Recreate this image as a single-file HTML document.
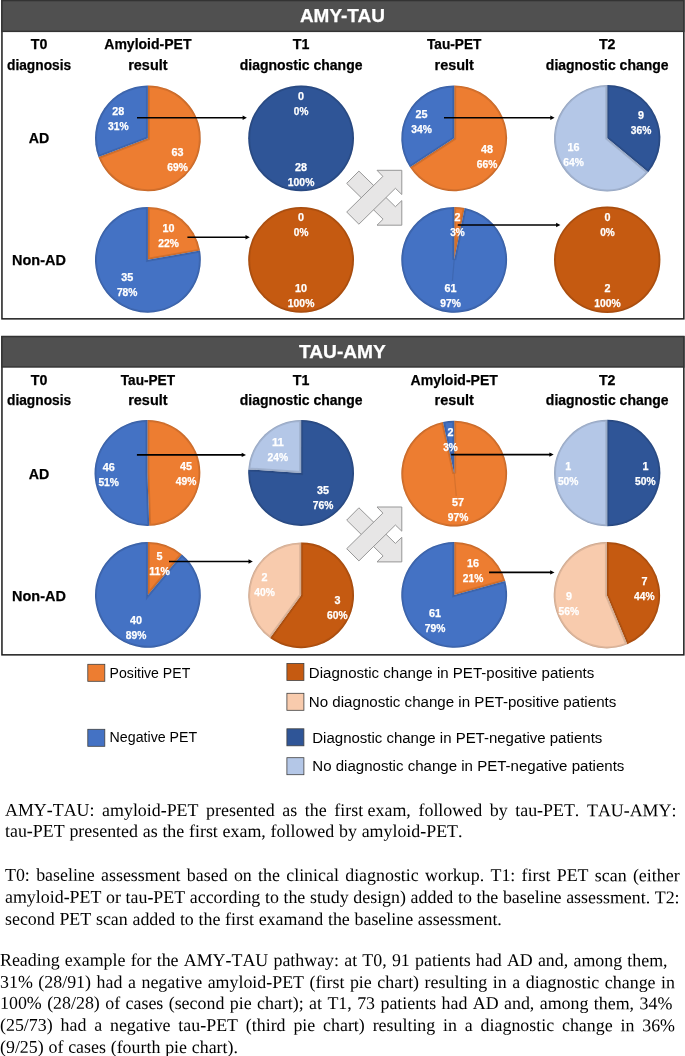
<!DOCTYPE html>
<html><head><meta charset="utf-8"><title>Figure</title>
<style>
html,body{margin:0;padding:0;background:#fff}
body{position:relative;width:685px;height:1056px;overflow:hidden}
svg{position:absolute;left:0;top:0}
svg text{font-family:"Liberation Sans",sans-serif}
.ln{position:absolute;font-family:"Liberation Serif",serif;font-size:17.9px;font-kerning:none;line-height:20px;height:20px;color:#000;white-space:nowrap;overflow:visible;transform:rotate(0.03deg);transform-origin:50% 16.1px}
.ln.j{white-space:nowrap;text-align:justify;text-align-last:justify}
.nb{display:inline-block;white-space:nowrap}
#w{position:absolute;left:0;top:0;width:685px;height:1056px;will-change:transform}
</style></head><body><div id="w">
<svg width="685" height="790" viewBox="0 0 685 790">
<defs><clipPath id="c1"><path d="M147.9 138.30L147.90 85.40A52.9 52.9 0 1 1 98.44 157.06Z"/></clipPath><clipPath id="c2"><path d="M147.9 138.30L98.44 157.06A52.9 52.9 0 0 1 147.90 85.40Z"/></clipPath><clipPath id="c3"><path d="M147.9 259.80L147.90 206.90A52.9 52.9 0 0 1 200.00 250.61Z"/></clipPath><clipPath id="c4"><path d="M147.9 259.80L200.00 250.61A52.9 52.9 0 1 1 147.90 206.90Z"/></clipPath><clipPath id="c7"><path d="M454.2 138.30L454.20 85.40A52.9 52.9 0 1 1 409.98 167.33Z"/></clipPath><clipPath id="c8"><path d="M454.2 138.30L409.98 167.33A52.9 52.9 0 0 1 454.20 85.40Z"/></clipPath><clipPath id="c9"><path d="M454.2 259.80L454.20 206.90A52.9 52.9 0 0 1 464.68 207.95Z"/></clipPath><clipPath id="c10"><path d="M454.2 259.80L464.68 207.95A52.9 52.9 0 1 1 454.20 206.90Z"/></clipPath><clipPath id="c11"><path d="M607.2 138.30L607.20 85.10A53.2 53.2 0 0 1 648.19 172.21Z"/></clipPath><clipPath id="c12"><path d="M607.2 138.30L648.19 172.21A53.2 53.2 0 1 1 607.20 85.10Z"/></clipPath><clipPath id="c14"><path d="M147.4 473.00L147.40 420.10A52.9 52.9 0 0 1 149.23 525.87Z"/></clipPath><clipPath id="c15"><path d="M147.4 473.00L149.23 525.87A52.9 52.9 0 1 1 147.40 420.10Z"/></clipPath><clipPath id="c16"><path d="M147.9 594.90L147.90 542.00A52.9 52.9 0 0 1 181.90 554.38Z"/></clipPath><clipPath id="c17"><path d="M147.9 594.90L181.90 554.38A52.9 52.9 0 1 1 147.90 542.00Z"/></clipPath><clipPath id="c18"><path d="M301.1 473.00L301.10 420.10A52.9 52.9 0 1 1 248.32 469.39Z"/></clipPath><clipPath id="c19"><path d="M301.1 473.00L248.32 469.39A52.9 52.9 0 0 1 301.10 420.10Z"/></clipPath><clipPath id="c20"><path d="M301.1 595.30L301.10 542.40A52.9 52.9 0 1 1 270.01 638.10Z"/></clipPath><clipPath id="c21"><path d="M301.1 595.30L270.01 638.10A52.9 52.9 0 0 1 301.10 542.40Z"/></clipPath><clipPath id="c22"><path d="M454.2 473.60L454.20 420.70A52.9 52.9 0 1 1 443.02 421.90Z"/></clipPath><clipPath id="c23"><path d="M454.2 473.60L443.02 421.90A52.9 52.9 0 0 1 454.20 420.70Z"/></clipPath><clipPath id="c24"><path d="M454.2 594.90L454.20 542.00A52.9 52.9 0 0 1 505.25 581.03Z"/></clipPath><clipPath id="c25"><path d="M454.2 594.90L505.25 581.03A52.9 52.9 0 1 1 454.20 542.00Z"/></clipPath><clipPath id="c26"><path d="M607.2 473.00L607.20 419.80A53.2 53.2 0 0 1 607.20 526.20Z"/></clipPath><clipPath id="c27"><path d="M607.2 473.00L607.20 526.20A53.2 53.2 0 0 1 607.20 419.80Z"/></clipPath><clipPath id="c28"><path d="M606.9000000000001 595.20L606.90 542.00A53.2 53.2 0 0 1 627.26 644.35Z"/></clipPath><clipPath id="c29"><path d="M606.9000000000001 595.20L627.26 644.35A53.2 53.2 0 1 1 606.90 542.00Z"/></clipPath></defs>
<rect x="1.95" y="0.6" width="681.9" height="318.25" fill="#fff" stroke="#1c1c1c" stroke-width="1.5"/>
<rect x="1.95" y="0.6" width="681.9" height="30.8" fill="#505050" stroke="#333" stroke-width="1.4"/>
<text x="342.4" y="22.3" font-size="18.34" font-weight="bold" fill="#fff" stroke="#fff" stroke-width="0.25" text-anchor="middle" textLength="84.9" lengthAdjust="spacingAndGlyphs">AMY-TAU</text>
<text x="39.1" y="49.2" font-size="14.86" font-weight="bold" fill="#000" stroke="#000" stroke-width="0.25" text-anchor="middle" textLength="16.6" lengthAdjust="spacingAndGlyphs">T0</text>
<text x="39.1" y="69.7" font-size="14.86" font-weight="bold" fill="#000" stroke="#000" stroke-width="0.25" text-anchor="middle" textLength="64.2" lengthAdjust="spacingAndGlyphs">diagnosis</text>
<text x="147.9" y="49.2" font-size="14.86" font-weight="bold" fill="#000" stroke="#000" stroke-width="0.25" text-anchor="middle" textLength="87.3" lengthAdjust="spacingAndGlyphs">Amyloid-PET</text>
<text x="147.9" y="69.7" font-size="14.86" font-weight="bold" fill="#000" stroke="#000" stroke-width="0.25" text-anchor="middle" textLength="39.4" lengthAdjust="spacingAndGlyphs">result</text>
<text x="301.1" y="49.2" font-size="14.86" font-weight="bold" fill="#000" stroke="#000" stroke-width="0.25" text-anchor="middle" textLength="16.6" lengthAdjust="spacingAndGlyphs">T1</text>
<text x="301.1" y="69.7" font-size="14.86" font-weight="bold" fill="#000" stroke="#000" stroke-width="0.25" text-anchor="middle" textLength="122.7" lengthAdjust="spacingAndGlyphs">diagnostic change</text>
<text x="454.2" y="49.2" font-size="14.86" font-weight="bold" fill="#000" stroke="#000" stroke-width="0.25" text-anchor="middle" textLength="54.3" lengthAdjust="spacingAndGlyphs">Tau-PET</text>
<text x="454.2" y="69.7" font-size="14.86" font-weight="bold" fill="#000" stroke="#000" stroke-width="0.25" text-anchor="middle" textLength="39.4" lengthAdjust="spacingAndGlyphs">result</text>
<text x="607.2" y="49.2" font-size="14.86" font-weight="bold" fill="#000" stroke="#000" stroke-width="0.25" text-anchor="middle" textLength="16.6" lengthAdjust="spacingAndGlyphs">T2</text>
<text x="607.2" y="69.7" font-size="14.86" font-weight="bold" fill="#000" stroke="#000" stroke-width="0.25" text-anchor="middle" textLength="122.7" lengthAdjust="spacingAndGlyphs">diagnostic change</text>
<text x="39.0" y="143.4" font-size="14.86" font-weight="bold" fill="#000" stroke="#000" stroke-width="0.25" text-anchor="middle" textLength="20.5" lengthAdjust="spacingAndGlyphs">AD</text>
<text x="39.0" y="264.9" font-size="14.86" font-weight="bold" fill="#000" stroke="#000" stroke-width="0.25" text-anchor="middle" textLength="53.8" lengthAdjust="spacingAndGlyphs">Non-AD</text>
<path d="M147.9 138.30L147.90 85.40A52.9 52.9 0 1 1 98.44 157.06Z" fill="#ED7D31"/>
<path d="M147.9 138.30L147.90 85.40A52.9 52.9 0 1 1 98.44 157.06Z" fill="none" stroke="#000" stroke-opacity="0.1" stroke-width="4" clip-path="url(#c1)"/>
<path d="M147.9 138.30L147.90 85.40A52.9 52.9 0 1 1 98.44 157.06Z" fill="none" stroke="#000" stroke-opacity="0.08" stroke-width="1.4" clip-path="url(#c1)"/>
<path d="M147.9 138.30L98.44 157.06A52.9 52.9 0 0 1 147.90 85.40Z" fill="#4472C4"/>
<path d="M147.9 138.30L98.44 157.06A52.9 52.9 0 0 1 147.90 85.40Z" fill="none" stroke="#000" stroke-opacity="0.1" stroke-width="4" clip-path="url(#c2)"/>
<path d="M147.9 138.30L98.44 157.06A52.9 52.9 0 0 1 147.90 85.40Z" fill="none" stroke="#000" stroke-opacity="0.08" stroke-width="1.4" clip-path="url(#c2)"/>
<path d="M147.9 259.80L147.90 206.90A52.9 52.9 0 0 1 200.00 250.61Z" fill="#ED7D31"/>
<path d="M147.9 259.80L147.90 206.90A52.9 52.9 0 0 1 200.00 250.61Z" fill="none" stroke="#000" stroke-opacity="0.1" stroke-width="4" clip-path="url(#c3)"/>
<path d="M147.9 259.80L147.90 206.90A52.9 52.9 0 0 1 200.00 250.61Z" fill="none" stroke="#000" stroke-opacity="0.08" stroke-width="1.4" clip-path="url(#c3)"/>
<path d="M147.9 259.80L200.00 250.61A52.9 52.9 0 1 1 147.90 206.90Z" fill="#4472C4"/>
<path d="M147.9 259.80L200.00 250.61A52.9 52.9 0 1 1 147.90 206.90Z" fill="none" stroke="#000" stroke-opacity="0.1" stroke-width="4" clip-path="url(#c4)"/>
<path d="M147.9 259.80L200.00 250.61A52.9 52.9 0 1 1 147.90 206.90Z" fill="none" stroke="#000" stroke-opacity="0.08" stroke-width="1.4" clip-path="url(#c4)"/>
<circle cx="301.1" cy="138.30" r="52.9" fill="#2F5597"/>
<circle cx="301.1" cy="138.30" r="51.9" fill="none" stroke="#000" stroke-opacity="0.1" stroke-width="2"/>
<circle cx="301.1" cy="138.30" r="52.55" fill="none" stroke="#000" stroke-opacity="0.08" stroke-width="0.7"/>
<circle cx="301.1" cy="259.80" r="52.9" fill="#C55A11"/>
<circle cx="301.1" cy="259.80" r="51.9" fill="none" stroke="#000" stroke-opacity="0.1" stroke-width="2"/>
<circle cx="301.1" cy="259.80" r="52.55" fill="none" stroke="#000" stroke-opacity="0.08" stroke-width="0.7"/>
<path d="M454.2 138.30L454.20 85.40A52.9 52.9 0 1 1 409.98 167.33Z" fill="#ED7D31"/>
<path d="M454.2 138.30L454.20 85.40A52.9 52.9 0 1 1 409.98 167.33Z" fill="none" stroke="#000" stroke-opacity="0.1" stroke-width="4" clip-path="url(#c7)"/>
<path d="M454.2 138.30L454.20 85.40A52.9 52.9 0 1 1 409.98 167.33Z" fill="none" stroke="#000" stroke-opacity="0.08" stroke-width="1.4" clip-path="url(#c7)"/>
<path d="M454.2 138.30L409.98 167.33A52.9 52.9 0 0 1 454.20 85.40Z" fill="#4472C4"/>
<path d="M454.2 138.30L409.98 167.33A52.9 52.9 0 0 1 454.20 85.40Z" fill="none" stroke="#000" stroke-opacity="0.1" stroke-width="4" clip-path="url(#c8)"/>
<path d="M454.2 138.30L409.98 167.33A52.9 52.9 0 0 1 454.20 85.40Z" fill="none" stroke="#000" stroke-opacity="0.08" stroke-width="1.4" clip-path="url(#c8)"/>
<path d="M454.2 259.80L454.20 206.90A52.9 52.9 0 0 1 464.68 207.95Z" fill="#ED7D31"/>
<path d="M454.2 259.80L454.20 206.90A52.9 52.9 0 0 1 464.68 207.95Z" fill="none" stroke="#000" stroke-opacity="0.1" stroke-width="4" clip-path="url(#c9)"/>
<path d="M454.2 259.80L454.20 206.90A52.9 52.9 0 0 1 464.68 207.95Z" fill="none" stroke="#000" stroke-opacity="0.08" stroke-width="1.4" clip-path="url(#c9)"/>
<path d="M454.2 259.80L464.68 207.95A52.9 52.9 0 1 1 454.20 206.90Z" fill="#4472C4"/>
<path d="M454.2 259.80L464.68 207.95A52.9 52.9 0 1 1 454.20 206.90Z" fill="none" stroke="#000" stroke-opacity="0.1" stroke-width="4" clip-path="url(#c10)"/>
<path d="M454.2 259.80L464.68 207.95A52.9 52.9 0 1 1 454.20 206.90Z" fill="none" stroke="#000" stroke-opacity="0.08" stroke-width="1.4" clip-path="url(#c10)"/>
<path d="M607.2 138.30L607.20 85.10A53.2 53.2 0 0 1 648.19 172.21Z" fill="#2F5597"/>
<path d="M607.2 138.30L607.20 85.10A53.2 53.2 0 0 1 648.19 172.21Z" fill="none" stroke="#000" stroke-opacity="0.1" stroke-width="4" clip-path="url(#c11)"/>
<path d="M607.2 138.30L607.20 85.10A53.2 53.2 0 0 1 648.19 172.21Z" fill="none" stroke="#000" stroke-opacity="0.08" stroke-width="1.4" clip-path="url(#c11)"/>
<path d="M607.2 138.30L648.19 172.21A53.2 53.2 0 1 1 607.20 85.10Z" fill="#B4C7E7"/>
<path d="M607.2 138.30L648.19 172.21A53.2 53.2 0 1 1 607.20 85.10Z" fill="none" stroke="#000" stroke-opacity="0.1" stroke-width="4" clip-path="url(#c12)"/>
<path d="M607.2 138.30L648.19 172.21A53.2 53.2 0 1 1 607.20 85.10Z" fill="none" stroke="#000" stroke-opacity="0.08" stroke-width="1.4" clip-path="url(#c12)"/>
<circle cx="607.2" cy="259.80" r="53.2" fill="#C55A11"/>
<circle cx="607.2" cy="259.80" r="52.2" fill="none" stroke="#000" stroke-opacity="0.1" stroke-width="2"/>
<circle cx="607.2" cy="259.80" r="52.85" fill="none" stroke="#000" stroke-opacity="0.08" stroke-width="0.7"/>
<polygon points="346.7,183.4 358.9,171.1 395.4,206.7 401.8,200.6 401.8,225.2 377.0,225.2 383.1,219.2" fill="#E7E6E6" stroke="#929292" stroke-width="0.95" stroke-linejoin="miter"/>
<polygon points="346.7,212.0 382.9,176.4 377.0,170.3 401.8,170.3 401.8,194.5 395.4,188.3 358.9,224.2" fill="#E7E6E6" stroke="#929292" stroke-width="0.95" stroke-linejoin="miter"/>
<path d="M454.2 259.8L452.4 281" stroke="#000" stroke-opacity="0.09" stroke-width="1.3" fill="none"/>
<path d="M137 117.7H244.4" stroke="#000" stroke-width="1.6" fill="none"/>
<path d="M246.9 117.7l-4.3 -2.2v4.4z" fill="#000"/>
<path d="M187.4 237.3H247.3" stroke="#000" stroke-width="1.6" fill="none"/>
<path d="M249.8 237.3l-4.3 -2.2v4.4z" fill="#000"/>
<path d="M444 117.7H552.1" stroke="#000" stroke-width="1.6" fill="none"/>
<path d="M554.6 117.7l-4.3 -2.2v4.4z" fill="#000"/>
<path d="M457.7 225.0H557.9" stroke="#000" stroke-width="1.6" fill="none"/>
<path d="M560.4 225.0l-4.3 -2.2v4.4z" fill="#000"/>
<text x="118.3" y="114.7" font-size="10.56" font-weight="bold" fill="#fff" stroke="#fff" stroke-width="0.25" text-anchor="middle" textLength="12.0" lengthAdjust="spacingAndGlyphs">28</text>
<text x="118.3" y="129.7" font-size="10.56" font-weight="bold" fill="#fff" stroke="#fff" stroke-width="0.25" text-anchor="middle" textLength="20.6" lengthAdjust="spacingAndGlyphs">31%</text>
<text x="177.5" y="156.3" font-size="10.56" font-weight="bold" fill="#fff" stroke="#fff" stroke-width="0.25" text-anchor="middle" textLength="12.0" lengthAdjust="spacingAndGlyphs">63</text>
<text x="177.5" y="171.3" font-size="10.56" font-weight="bold" fill="#fff" stroke="#fff" stroke-width="0.25" text-anchor="middle" textLength="20.6" lengthAdjust="spacingAndGlyphs">69%</text>
<text x="168.6" y="232.1" font-size="10.56" font-weight="bold" fill="#fff" stroke="#fff" stroke-width="0.25" text-anchor="middle" textLength="12.0" lengthAdjust="spacingAndGlyphs">10</text>
<text x="168.6" y="247.1" font-size="10.56" font-weight="bold" fill="#fff" stroke="#fff" stroke-width="0.25" text-anchor="middle" textLength="20.6" lengthAdjust="spacingAndGlyphs">22%</text>
<text x="127.2" y="281.2" font-size="10.56" font-weight="bold" fill="#fff" stroke="#fff" stroke-width="0.25" text-anchor="middle" textLength="12.0" lengthAdjust="spacingAndGlyphs">35</text>
<text x="127.2" y="296.2" font-size="10.56" font-weight="bold" fill="#fff" stroke="#fff" stroke-width="0.25" text-anchor="middle" textLength="20.6" lengthAdjust="spacingAndGlyphs">78%</text>
<text x="301.1" y="99.7" font-size="10.56" font-weight="bold" fill="#fff" stroke="#fff" stroke-width="0.25" text-anchor="middle" textLength="6.0" lengthAdjust="spacingAndGlyphs">0</text>
<text x="301.1" y="114.7" font-size="10.56" font-weight="bold" fill="#fff" stroke="#fff" stroke-width="0.25" text-anchor="middle" textLength="14.6" lengthAdjust="spacingAndGlyphs">0%</text>
<text x="301.1" y="170.9" font-size="10.56" font-weight="bold" fill="#fff" stroke="#fff" stroke-width="0.25" text-anchor="middle" textLength="12.0" lengthAdjust="spacingAndGlyphs">28</text>
<text x="301.1" y="185.9" font-size="10.56" font-weight="bold" fill="#fff" stroke="#fff" stroke-width="0.25" text-anchor="middle" textLength="26.5" lengthAdjust="spacingAndGlyphs">100%</text>
<text x="301.1" y="220.9" font-size="10.56" font-weight="bold" fill="#fff" stroke="#fff" stroke-width="0.25" text-anchor="middle" textLength="6.0" lengthAdjust="spacingAndGlyphs">0</text>
<text x="301.1" y="235.9" font-size="10.56" font-weight="bold" fill="#fff" stroke="#fff" stroke-width="0.25" text-anchor="middle" textLength="14.6" lengthAdjust="spacingAndGlyphs">0%</text>
<text x="301.1" y="292.3" font-size="10.56" font-weight="bold" fill="#fff" stroke="#fff" stroke-width="0.25" text-anchor="middle" textLength="12.0" lengthAdjust="spacingAndGlyphs">10</text>
<text x="301.1" y="307.3" font-size="10.56" font-weight="bold" fill="#fff" stroke="#fff" stroke-width="0.25" text-anchor="middle" textLength="26.5" lengthAdjust="spacingAndGlyphs">100%</text>
<text x="421.5" y="118.0" font-size="10.56" font-weight="bold" fill="#fff" stroke="#fff" stroke-width="0.25" text-anchor="middle" textLength="12.0" lengthAdjust="spacingAndGlyphs">25</text>
<text x="421.5" y="133.0" font-size="10.56" font-weight="bold" fill="#fff" stroke="#fff" stroke-width="0.25" text-anchor="middle" textLength="20.6" lengthAdjust="spacingAndGlyphs">34%</text>
<text x="487.0" y="152.5" font-size="10.56" font-weight="bold" fill="#fff" stroke="#fff" stroke-width="0.25" text-anchor="middle" textLength="12.0" lengthAdjust="spacingAndGlyphs">48</text>
<text x="487.0" y="167.5" font-size="10.56" font-weight="bold" fill="#fff" stroke="#fff" stroke-width="0.25" text-anchor="middle" textLength="20.6" lengthAdjust="spacingAndGlyphs">66%</text>
<text x="457.5" y="221.0" font-size="10.56" font-weight="bold" fill="#fff" stroke="#fff" stroke-width="0.25" text-anchor="middle" textLength="6.0" lengthAdjust="spacingAndGlyphs">2</text>
<text x="457.5" y="236.0" font-size="10.56" font-weight="bold" fill="#fff" stroke="#fff" stroke-width="0.25" text-anchor="middle" textLength="14.6" lengthAdjust="spacingAndGlyphs">3%</text>
<text x="450.5" y="291.5" font-size="10.56" font-weight="bold" fill="#fff" stroke="#fff" stroke-width="0.25" text-anchor="middle" textLength="12.0" lengthAdjust="spacingAndGlyphs">61</text>
<text x="450.5" y="306.5" font-size="10.56" font-weight="bold" fill="#fff" stroke="#fff" stroke-width="0.25" text-anchor="middle" textLength="20.6" lengthAdjust="spacingAndGlyphs">97%</text>
<text x="641.0" y="119.4" font-size="10.56" font-weight="bold" fill="#fff" stroke="#fff" stroke-width="0.25" text-anchor="middle" textLength="6.0" lengthAdjust="spacingAndGlyphs">9</text>
<text x="641.0" y="134.4" font-size="10.56" font-weight="bold" fill="#fff" stroke="#fff" stroke-width="0.25" text-anchor="middle" textLength="20.6" lengthAdjust="spacingAndGlyphs">36%</text>
<text x="573.5" y="151.4" font-size="10.56" font-weight="bold" fill="#fff" stroke="#fff" stroke-width="0.25" text-anchor="middle" textLength="12.0" lengthAdjust="spacingAndGlyphs">16</text>
<text x="573.5" y="166.4" font-size="10.56" font-weight="bold" fill="#fff" stroke="#fff" stroke-width="0.25" text-anchor="middle" textLength="20.6" lengthAdjust="spacingAndGlyphs">64%</text>
<text x="607.5" y="220.9" font-size="10.56" font-weight="bold" fill="#fff" stroke="#fff" stroke-width="0.25" text-anchor="middle" textLength="6.0" lengthAdjust="spacingAndGlyphs">0</text>
<text x="607.5" y="235.9" font-size="10.56" font-weight="bold" fill="#fff" stroke="#fff" stroke-width="0.25" text-anchor="middle" textLength="14.6" lengthAdjust="spacingAndGlyphs">0%</text>
<text x="607.5" y="292.3" font-size="10.56" font-weight="bold" fill="#fff" stroke="#fff" stroke-width="0.25" text-anchor="middle" textLength="6.0" lengthAdjust="spacingAndGlyphs">2</text>
<text x="607.5" y="307.3" font-size="10.56" font-weight="bold" fill="#fff" stroke="#fff" stroke-width="0.25" text-anchor="middle" textLength="26.5" lengthAdjust="spacingAndGlyphs">100%</text>
<rect x="1.95" y="336.6" width="681.9" height="318.25" fill="#fff" stroke="#1c1c1c" stroke-width="1.5"/>
<rect x="1.95" y="336.6" width="681.9" height="30.4" fill="#505050" stroke="#333" stroke-width="1.4"/>
<text x="342.4" y="358.3" font-size="18.34" font-weight="bold" fill="#fff" stroke="#fff" stroke-width="0.25" text-anchor="middle" textLength="86.9" lengthAdjust="spacingAndGlyphs">TAU-AMY</text>
<text x="39.1" y="384.7" font-size="14.86" font-weight="bold" fill="#000" stroke="#000" stroke-width="0.25" text-anchor="middle" textLength="16.6" lengthAdjust="spacingAndGlyphs">T0</text>
<text x="39.1" y="404.8" font-size="14.86" font-weight="bold" fill="#000" stroke="#000" stroke-width="0.25" text-anchor="middle" textLength="64.2" lengthAdjust="spacingAndGlyphs">diagnosis</text>
<text x="147.9" y="384.7" font-size="14.86" font-weight="bold" fill="#000" stroke="#000" stroke-width="0.25" text-anchor="middle" textLength="54.3" lengthAdjust="spacingAndGlyphs">Tau-PET</text>
<text x="147.9" y="404.8" font-size="14.86" font-weight="bold" fill="#000" stroke="#000" stroke-width="0.25" text-anchor="middle" textLength="39.4" lengthAdjust="spacingAndGlyphs">result</text>
<text x="301.1" y="384.7" font-size="14.86" font-weight="bold" fill="#000" stroke="#000" stroke-width="0.25" text-anchor="middle" textLength="16.6" lengthAdjust="spacingAndGlyphs">T1</text>
<text x="301.1" y="404.8" font-size="14.86" font-weight="bold" fill="#000" stroke="#000" stroke-width="0.25" text-anchor="middle" textLength="122.7" lengthAdjust="spacingAndGlyphs">diagnostic change</text>
<text x="454.2" y="384.7" font-size="14.86" font-weight="bold" fill="#000" stroke="#000" stroke-width="0.25" text-anchor="middle" textLength="87.3" lengthAdjust="spacingAndGlyphs">Amyloid-PET</text>
<text x="454.2" y="404.8" font-size="14.86" font-weight="bold" fill="#000" stroke="#000" stroke-width="0.25" text-anchor="middle" textLength="39.4" lengthAdjust="spacingAndGlyphs">result</text>
<text x="607.2" y="384.7" font-size="14.86" font-weight="bold" fill="#000" stroke="#000" stroke-width="0.25" text-anchor="middle" textLength="16.6" lengthAdjust="spacingAndGlyphs">T2</text>
<text x="607.2" y="404.8" font-size="14.86" font-weight="bold" fill="#000" stroke="#000" stroke-width="0.25" text-anchor="middle" textLength="122.7" lengthAdjust="spacingAndGlyphs">diagnostic change</text>
<text x="39.0" y="479.1" font-size="14.86" font-weight="bold" fill="#000" stroke="#000" stroke-width="0.25" text-anchor="middle" textLength="20.5" lengthAdjust="spacingAndGlyphs">AD</text>
<text x="39.0" y="601.3" font-size="14.86" font-weight="bold" fill="#000" stroke="#000" stroke-width="0.25" text-anchor="middle" textLength="53.8" lengthAdjust="spacingAndGlyphs">Non-AD</text>
<path d="M147.4 473.00L147.40 420.10A52.9 52.9 0 0 1 149.23 525.87Z" fill="#ED7D31"/>
<path d="M147.4 473.00L147.40 420.10A52.9 52.9 0 0 1 149.23 525.87Z" fill="none" stroke="#000" stroke-opacity="0.1" stroke-width="4" clip-path="url(#c14)"/>
<path d="M147.4 473.00L147.40 420.10A52.9 52.9 0 0 1 149.23 525.87Z" fill="none" stroke="#000" stroke-opacity="0.08" stroke-width="1.4" clip-path="url(#c14)"/>
<path d="M147.4 473.00L149.23 525.87A52.9 52.9 0 1 1 147.40 420.10Z" fill="#4472C4"/>
<path d="M147.4 473.00L149.23 525.87A52.9 52.9 0 1 1 147.40 420.10Z" fill="none" stroke="#000" stroke-opacity="0.1" stroke-width="4" clip-path="url(#c15)"/>
<path d="M147.4 473.00L149.23 525.87A52.9 52.9 0 1 1 147.40 420.10Z" fill="none" stroke="#000" stroke-opacity="0.08" stroke-width="1.4" clip-path="url(#c15)"/>
<path d="M147.9 594.90L147.90 542.00A52.9 52.9 0 0 1 181.90 554.38Z" fill="#ED7D31"/>
<path d="M147.9 594.90L147.90 542.00A52.9 52.9 0 0 1 181.90 554.38Z" fill="none" stroke="#000" stroke-opacity="0.1" stroke-width="4" clip-path="url(#c16)"/>
<path d="M147.9 594.90L147.90 542.00A52.9 52.9 0 0 1 181.90 554.38Z" fill="none" stroke="#000" stroke-opacity="0.08" stroke-width="1.4" clip-path="url(#c16)"/>
<path d="M147.9 594.90L181.90 554.38A52.9 52.9 0 1 1 147.90 542.00Z" fill="#4472C4"/>
<path d="M147.9 594.90L181.90 554.38A52.9 52.9 0 1 1 147.90 542.00Z" fill="none" stroke="#000" stroke-opacity="0.1" stroke-width="4" clip-path="url(#c17)"/>
<path d="M147.9 594.90L181.90 554.38A52.9 52.9 0 1 1 147.90 542.00Z" fill="none" stroke="#000" stroke-opacity="0.08" stroke-width="1.4" clip-path="url(#c17)"/>
<path d="M301.1 473.00L301.10 420.10A52.9 52.9 0 1 1 248.32 469.39Z" fill="#2F5597"/>
<path d="M301.1 473.00L301.10 420.10A52.9 52.9 0 1 1 248.32 469.39Z" fill="none" stroke="#000" stroke-opacity="0.1" stroke-width="4" clip-path="url(#c18)"/>
<path d="M301.1 473.00L301.10 420.10A52.9 52.9 0 1 1 248.32 469.39Z" fill="none" stroke="#000" stroke-opacity="0.08" stroke-width="1.4" clip-path="url(#c18)"/>
<path d="M301.1 473.00L248.32 469.39A52.9 52.9 0 0 1 301.10 420.10Z" fill="#B4C7E7"/>
<path d="M301.1 473.00L248.32 469.39A52.9 52.9 0 0 1 301.10 420.10Z" fill="none" stroke="#000" stroke-opacity="0.1" stroke-width="4" clip-path="url(#c19)"/>
<path d="M301.1 473.00L248.32 469.39A52.9 52.9 0 0 1 301.10 420.10Z" fill="none" stroke="#000" stroke-opacity="0.08" stroke-width="1.4" clip-path="url(#c19)"/>
<path d="M301.1 595.30L301.10 542.40A52.9 52.9 0 1 1 270.01 638.10Z" fill="#C55A11"/>
<path d="M301.1 595.30L301.10 542.40A52.9 52.9 0 1 1 270.01 638.10Z" fill="none" stroke="#000" stroke-opacity="0.1" stroke-width="4" clip-path="url(#c20)"/>
<path d="M301.1 595.30L301.10 542.40A52.9 52.9 0 1 1 270.01 638.10Z" fill="none" stroke="#000" stroke-opacity="0.08" stroke-width="1.4" clip-path="url(#c20)"/>
<path d="M301.1 595.30L270.01 638.10A52.9 52.9 0 0 1 301.10 542.40Z" fill="#F8CBAD"/>
<path d="M301.1 595.30L270.01 638.10A52.9 52.9 0 0 1 301.10 542.40Z" fill="none" stroke="#000" stroke-opacity="0.1" stroke-width="4" clip-path="url(#c21)"/>
<path d="M301.1 595.30L270.01 638.10A52.9 52.9 0 0 1 301.10 542.40Z" fill="none" stroke="#000" stroke-opacity="0.08" stroke-width="1.4" clip-path="url(#c21)"/>
<path d="M454.2 473.60L454.20 420.70A52.9 52.9 0 1 1 443.02 421.90Z" fill="#ED7D31"/>
<path d="M454.2 473.60L454.20 420.70A52.9 52.9 0 1 1 443.02 421.90Z" fill="none" stroke="#000" stroke-opacity="0.1" stroke-width="4" clip-path="url(#c22)"/>
<path d="M454.2 473.60L454.20 420.70A52.9 52.9 0 1 1 443.02 421.90Z" fill="none" stroke="#000" stroke-opacity="0.08" stroke-width="1.4" clip-path="url(#c22)"/>
<path d="M454.2 473.60L443.02 421.90A52.9 52.9 0 0 1 454.20 420.70Z" fill="#4472C4"/>
<path d="M454.2 473.60L443.02 421.90A52.9 52.9 0 0 1 454.20 420.70Z" fill="none" stroke="#000" stroke-opacity="0.1" stroke-width="4" clip-path="url(#c23)"/>
<path d="M454.2 473.60L443.02 421.90A52.9 52.9 0 0 1 454.20 420.70Z" fill="none" stroke="#000" stroke-opacity="0.08" stroke-width="1.4" clip-path="url(#c23)"/>
<path d="M454.2 594.90L454.20 542.00A52.9 52.9 0 0 1 505.25 581.03Z" fill="#ED7D31"/>
<path d="M454.2 594.90L454.20 542.00A52.9 52.9 0 0 1 505.25 581.03Z" fill="none" stroke="#000" stroke-opacity="0.1" stroke-width="4" clip-path="url(#c24)"/>
<path d="M454.2 594.90L454.20 542.00A52.9 52.9 0 0 1 505.25 581.03Z" fill="none" stroke="#000" stroke-opacity="0.08" stroke-width="1.4" clip-path="url(#c24)"/>
<path d="M454.2 594.90L505.25 581.03A52.9 52.9 0 1 1 454.20 542.00Z" fill="#4472C4"/>
<path d="M454.2 594.90L505.25 581.03A52.9 52.9 0 1 1 454.20 542.00Z" fill="none" stroke="#000" stroke-opacity="0.1" stroke-width="4" clip-path="url(#c25)"/>
<path d="M454.2 594.90L505.25 581.03A52.9 52.9 0 1 1 454.20 542.00Z" fill="none" stroke="#000" stroke-opacity="0.08" stroke-width="1.4" clip-path="url(#c25)"/>
<path d="M607.2 473.00L607.20 419.80A53.2 53.2 0 0 1 607.20 526.20Z" fill="#2F5597"/>
<path d="M607.2 473.00L607.20 419.80A53.2 53.2 0 0 1 607.20 526.20Z" fill="none" stroke="#000" stroke-opacity="0.1" stroke-width="4" clip-path="url(#c26)"/>
<path d="M607.2 473.00L607.20 419.80A53.2 53.2 0 0 1 607.20 526.20Z" fill="none" stroke="#000" stroke-opacity="0.08" stroke-width="1.4" clip-path="url(#c26)"/>
<path d="M607.2 473.00L607.20 526.20A53.2 53.2 0 0 1 607.20 419.80Z" fill="#B4C7E7"/>
<path d="M607.2 473.00L607.20 526.20A53.2 53.2 0 0 1 607.20 419.80Z" fill="none" stroke="#000" stroke-opacity="0.1" stroke-width="4" clip-path="url(#c27)"/>
<path d="M607.2 473.00L607.20 526.20A53.2 53.2 0 0 1 607.20 419.80Z" fill="none" stroke="#000" stroke-opacity="0.08" stroke-width="1.4" clip-path="url(#c27)"/>
<path d="M606.9000000000001 595.20L606.90 542.00A53.2 53.2 0 0 1 627.26 644.35Z" fill="#C55A11"/>
<path d="M606.9000000000001 595.20L606.90 542.00A53.2 53.2 0 0 1 627.26 644.35Z" fill="none" stroke="#000" stroke-opacity="0.1" stroke-width="4" clip-path="url(#c28)"/>
<path d="M606.9000000000001 595.20L606.90 542.00A53.2 53.2 0 0 1 627.26 644.35Z" fill="none" stroke="#000" stroke-opacity="0.08" stroke-width="1.4" clip-path="url(#c28)"/>
<path d="M606.9000000000001 595.20L627.26 644.35A53.2 53.2 0 1 1 606.90 542.00Z" fill="#F8CBAD"/>
<path d="M606.9000000000001 595.20L627.26 644.35A53.2 53.2 0 1 1 606.90 542.00Z" fill="none" stroke="#000" stroke-opacity="0.1" stroke-width="4" clip-path="url(#c29)"/>
<path d="M606.9000000000001 595.20L627.26 644.35A53.2 53.2 0 1 1 606.90 542.00Z" fill="none" stroke="#000" stroke-opacity="0.08" stroke-width="1.4" clip-path="url(#c29)"/>
<polygon points="346.7,520.1 358.9,507.8 395.4,543.4 401.8,537.3 401.8,561.9 377.0,561.9 383.1,555.9" fill="#E7E6E6" stroke="#929292" stroke-width="0.95" stroke-linejoin="miter"/>
<polygon points="346.7,548.7 382.9,513.1 377.0,507.0 401.8,507.0 401.8,531.2 395.4,525.0 358.9,560.9" fill="#E7E6E6" stroke="#929292" stroke-width="0.95" stroke-linejoin="miter"/>
<path d="M454.2 473.6L456.3 496.1" stroke="#000" stroke-opacity="0.09" stroke-width="1.3" fill="none"/>
<path d="M136.9 454.90000000000003H243.5" stroke="#000" stroke-width="1.6" fill="none"/>
<path d="M246.0 454.90000000000003l-4.3 -2.2v4.4z" fill="#000"/>
<path d="M169 561.5H250.3" stroke="#000" stroke-width="1.6" fill="none"/>
<path d="M252.8 561.5l-4.3 -2.2v4.4z" fill="#000"/>
<path d="M451.1 454.6H551.2" stroke="#000" stroke-width="1.6" fill="none"/>
<path d="M553.7 454.6l-4.3 -2.2v4.4z" fill="#000"/>
<path d="M489.1 572.4H552.0" stroke="#000" stroke-width="1.6" fill="none"/>
<path d="M554.5 572.4l-4.3 -2.2v4.4z" fill="#000"/>
<text x="108.7" y="471.0" font-size="10.56" font-weight="bold" fill="#fff" stroke="#fff" stroke-width="0.25" text-anchor="middle" textLength="12.0" lengthAdjust="spacingAndGlyphs">46</text>
<text x="108.7" y="486.0" font-size="10.56" font-weight="bold" fill="#fff" stroke="#fff" stroke-width="0.25" text-anchor="middle" textLength="20.6" lengthAdjust="spacingAndGlyphs">51%</text>
<text x="186.0" y="469.6" font-size="10.56" font-weight="bold" fill="#fff" stroke="#fff" stroke-width="0.25" text-anchor="middle" textLength="12.0" lengthAdjust="spacingAndGlyphs">45</text>
<text x="186.0" y="484.6" font-size="10.56" font-weight="bold" fill="#fff" stroke="#fff" stroke-width="0.25" text-anchor="middle" textLength="20.6" lengthAdjust="spacingAndGlyphs">49%</text>
<text x="159.6" y="559.6" font-size="10.56" font-weight="bold" fill="#fff" stroke="#fff" stroke-width="0.25" text-anchor="middle" textLength="6.0" lengthAdjust="spacingAndGlyphs">5</text>
<text x="159.6" y="574.6" font-size="10.56" font-weight="bold" fill="#fff" stroke="#fff" stroke-width="0.25" text-anchor="middle" textLength="20.6" lengthAdjust="spacingAndGlyphs">11%</text>
<text x="136.0" y="624.2" font-size="10.56" font-weight="bold" fill="#fff" stroke="#fff" stroke-width="0.25" text-anchor="middle" textLength="12.0" lengthAdjust="spacingAndGlyphs">40</text>
<text x="136.0" y="639.2" font-size="10.56" font-weight="bold" fill="#fff" stroke="#fff" stroke-width="0.25" text-anchor="middle" textLength="20.6" lengthAdjust="spacingAndGlyphs">89%</text>
<text x="277.9" y="446.2" font-size="10.56" font-weight="bold" fill="#fff" stroke="#fff" stroke-width="0.25" text-anchor="middle" textLength="12.0" lengthAdjust="spacingAndGlyphs">11</text>
<text x="277.9" y="461.2" font-size="10.56" font-weight="bold" fill="#fff" stroke="#fff" stroke-width="0.25" text-anchor="middle" textLength="20.6" lengthAdjust="spacingAndGlyphs">24%</text>
<text x="323.1" y="494.1" font-size="10.56" font-weight="bold" fill="#fff" stroke="#fff" stroke-width="0.25" text-anchor="middle" textLength="12.0" lengthAdjust="spacingAndGlyphs">35</text>
<text x="323.1" y="509.1" font-size="10.56" font-weight="bold" fill="#fff" stroke="#fff" stroke-width="0.25" text-anchor="middle" textLength="20.6" lengthAdjust="spacingAndGlyphs">76%</text>
<text x="264.6" y="581.3" font-size="10.56" font-weight="bold" fill="#fff" stroke="#fff" stroke-width="0.25" text-anchor="middle" textLength="6.0" lengthAdjust="spacingAndGlyphs">2</text>
<text x="264.6" y="596.3" font-size="10.56" font-weight="bold" fill="#fff" stroke="#fff" stroke-width="0.25" text-anchor="middle" textLength="20.6" lengthAdjust="spacingAndGlyphs">40%</text>
<text x="337.4" y="603.5" font-size="10.56" font-weight="bold" fill="#fff" stroke="#fff" stroke-width="0.25" text-anchor="middle" textLength="6.0" lengthAdjust="spacingAndGlyphs">3</text>
<text x="337.4" y="618.5" font-size="10.56" font-weight="bold" fill="#fff" stroke="#fff" stroke-width="0.25" text-anchor="middle" textLength="20.6" lengthAdjust="spacingAndGlyphs">60%</text>
<text x="450.5" y="435.9" font-size="10.56" font-weight="bold" fill="#fff" stroke="#fff" stroke-width="0.25" text-anchor="middle" textLength="6.0" lengthAdjust="spacingAndGlyphs">2</text>
<text x="450.5" y="450.9" font-size="10.56" font-weight="bold" fill="#fff" stroke="#fff" stroke-width="0.25" text-anchor="middle" textLength="14.6" lengthAdjust="spacingAndGlyphs">3%</text>
<text x="458.0" y="505.6" font-size="10.56" font-weight="bold" fill="#fff" stroke="#fff" stroke-width="0.25" text-anchor="middle" textLength="12.0" lengthAdjust="spacingAndGlyphs">57</text>
<text x="458.0" y="520.6" font-size="10.56" font-weight="bold" fill="#fff" stroke="#fff" stroke-width="0.25" text-anchor="middle" textLength="20.6" lengthAdjust="spacingAndGlyphs">97%</text>
<text x="473.0" y="566.8" font-size="10.56" font-weight="bold" fill="#fff" stroke="#fff" stroke-width="0.25" text-anchor="middle" textLength="12.0" lengthAdjust="spacingAndGlyphs">16</text>
<text x="473.0" y="581.8" font-size="10.56" font-weight="bold" fill="#fff" stroke="#fff" stroke-width="0.25" text-anchor="middle" textLength="20.6" lengthAdjust="spacingAndGlyphs">21%</text>
<text x="435.0" y="617.1" font-size="10.56" font-weight="bold" fill="#fff" stroke="#fff" stroke-width="0.25" text-anchor="middle" textLength="12.0" lengthAdjust="spacingAndGlyphs">61</text>
<text x="435.0" y="632.1" font-size="10.56" font-weight="bold" fill="#fff" stroke="#fff" stroke-width="0.25" text-anchor="middle" textLength="20.6" lengthAdjust="spacingAndGlyphs">79%</text>
<text x="568.2" y="470.1" font-size="10.56" font-weight="bold" fill="#fff" stroke="#fff" stroke-width="0.25" text-anchor="middle" textLength="6.0" lengthAdjust="spacingAndGlyphs">1</text>
<text x="568.2" y="485.1" font-size="10.56" font-weight="bold" fill="#fff" stroke="#fff" stroke-width="0.25" text-anchor="middle" textLength="20.6" lengthAdjust="spacingAndGlyphs">50%</text>
<text x="645.4" y="470.1" font-size="10.56" font-weight="bold" fill="#fff" stroke="#fff" stroke-width="0.25" text-anchor="middle" textLength="6.0" lengthAdjust="spacingAndGlyphs">1</text>
<text x="645.4" y="485.1" font-size="10.56" font-weight="bold" fill="#fff" stroke="#fff" stroke-width="0.25" text-anchor="middle" textLength="20.6" lengthAdjust="spacingAndGlyphs">50%</text>
<text x="568.9" y="599.8" font-size="10.56" font-weight="bold" fill="#fff" stroke="#fff" stroke-width="0.25" text-anchor="middle" textLength="6.0" lengthAdjust="spacingAndGlyphs">9</text>
<text x="568.9" y="614.8" font-size="10.56" font-weight="bold" fill="#fff" stroke="#fff" stroke-width="0.25" text-anchor="middle" textLength="20.6" lengthAdjust="spacingAndGlyphs">56%</text>
<text x="644.4" y="584.6" font-size="10.56" font-weight="bold" fill="#fff" stroke="#fff" stroke-width="0.25" text-anchor="middle" textLength="6.0" lengthAdjust="spacingAndGlyphs">7</text>
<text x="644.4" y="599.6" font-size="10.56" font-weight="bold" fill="#fff" stroke="#fff" stroke-width="0.25" text-anchor="middle" textLength="20.6" lengthAdjust="spacingAndGlyphs">44%</text>
<rect x="87.8" y="664.3" width="17" height="17" fill="#ED7D31" stroke="#404040" stroke-width="0.8"/>
<rect x="87.8" y="729.3" width="17" height="17" fill="#4472C4" stroke="#404040" stroke-width="0.8"/>
<text x="109.6" y="678.1" font-size="14.86" font-weight="normal" fill="#000" text-anchor="start" textLength="80.7" lengthAdjust="spacingAndGlyphs">Positive PET</text>
<text x="109.6" y="742.4" font-size="14.86" font-weight="normal" fill="#000" text-anchor="start" textLength="87.6" lengthAdjust="spacingAndGlyphs">Negative PET</text>
<rect x="286.90000000000003" y="663.4" width="17" height="17" fill="#C55A11" stroke="#404040" stroke-width="0.8"/>
<rect x="286.90000000000003" y="693.3" width="17" height="17" fill="#F8CBAD" stroke="#404040" stroke-width="0.8"/>
<rect x="286.90000000000003" y="728.8" width="17" height="17" fill="#2F5597" stroke="#404040" stroke-width="0.8"/>
<rect x="286.90000000000003" y="757.6999999999999" width="17" height="17" fill="#B4C7E7" stroke="#404040" stroke-width="0.8"/>
<text x="308.8" y="678.0" font-size="15.06" font-weight="normal" fill="#000" text-anchor="start" textLength="285.5" lengthAdjust="spacingAndGlyphs">Diagnostic change in PET-positive patients</text>
<text x="308.8" y="706.7" font-size="15.06" font-weight="normal" fill="#000" text-anchor="start" textLength="307.5" lengthAdjust="spacingAndGlyphs">No diagnostic change in PET-positive patients</text>
<text x="312.3" y="742.8" font-size="15.06" font-weight="normal" fill="#000" text-anchor="start" textLength="290.0" lengthAdjust="spacingAndGlyphs">Diagnostic change in PET-negative patients</text>
<text x="312.3" y="771.3" font-size="15.06" font-weight="normal" fill="#000" text-anchor="start" textLength="312.1" lengthAdjust="spacingAndGlyphs">No diagnostic change in PET-negative patients</text>
</svg>
<div class="ln j" style="left:5.4px;top:799.70px;width:671.4px">AMY-TAU: amyloid-PET presented as the <span class="nb">first exam,</span> followed by tau-PET. TAU-AMY:</div>
<div class="ln" style="left:5.4px;top:821.40px;width:674.6px"><span style="word-spacing:0.3px">tau-PET presented as the first exam, followed by amyloid-PET.</span></div>
<div class="ln j" style="left:5.4px;top:865.10px;width:674.6px">T0: baseline assessment based on the clinical diagnostic workup. T1: first PET scan (either</div>
<div class="ln j" style="left:5.4px;top:886.80px;width:674.6px">amyloid-PET or tau-PET according to the study design) added to the baseline assessment. T2:</div>
<div class="ln" style="left:5.4px;top:908.50px;width:674.6px"><span style="word-spacing:0.25px">second PET scan added to the first examand the baseline assessment.</span></div>
<div class="ln j" style="left:0px;top:949.90px;width:667.6px">Reading example for the AMY-TAU pathway: at T0, 91 patients had AD and, among them,</div>
<div class="ln j" style="left:0px;top:971.55px;width:675px">31% (28/91) had a negative amyloid-PET (first pie chart) resulting in a diagnostic change in</div>
<div class="ln j" style="left:0px;top:993.20px;width:672.3px">100% (28/28) of cases (second pie chart); at T1, 73 patients had AD and, among them, 34%</div>
<div class="ln j" style="left:0px;top:1014.85px;width:675px">(25/73) had a negative tau-PET (third pie chart) resulting in a diagnostic change in 36%</div>
<div class="ln" style="left:0px;top:1036.50px;width:674.6px"><span style="word-spacing:0.3px">(9/25) of cases (fourth pie chart).</span></div>
</div></body></html>
